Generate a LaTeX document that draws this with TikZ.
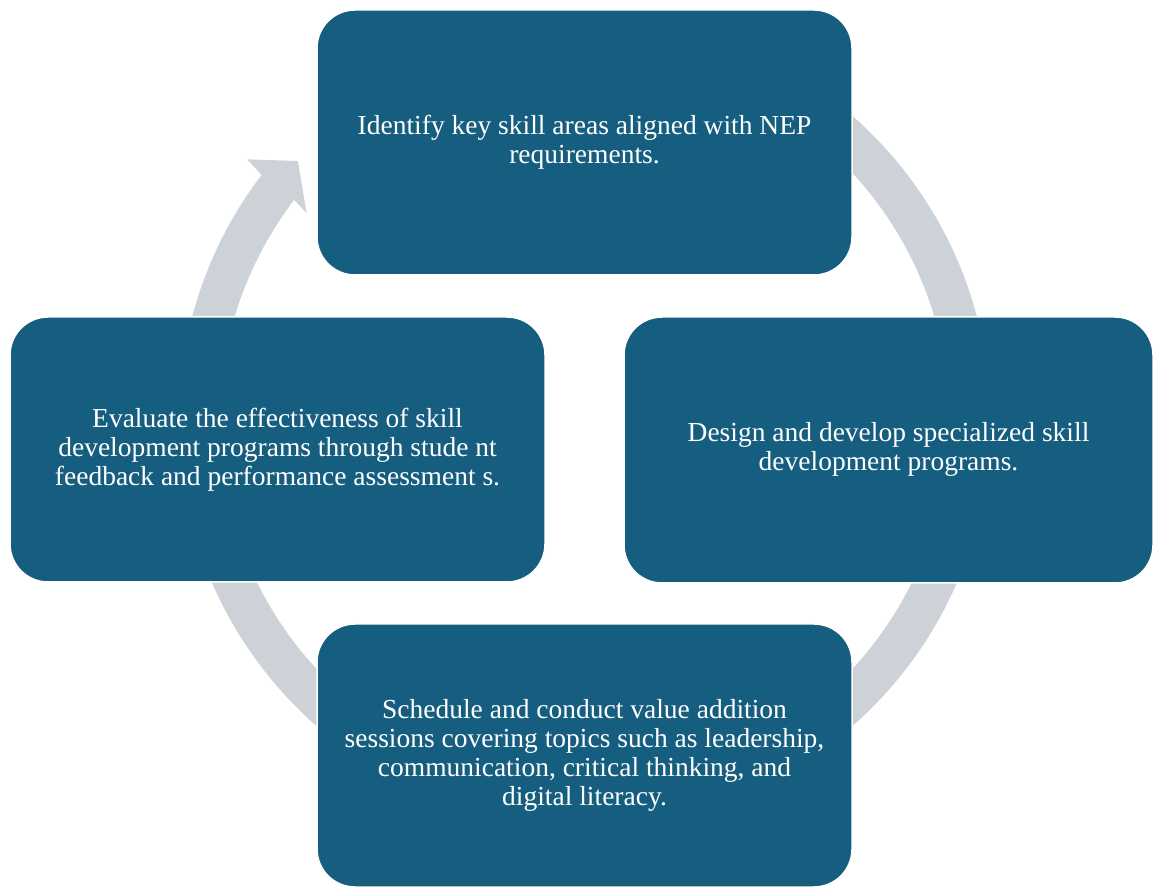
\documentclass[tikz,border=0pt]{standalone}
\usepackage{fontspec}
\setmainfont{Liberation Serif}
\usetikzlibrary{calc}
\definecolor{boxblue}{RGB}{22,94,128}
\definecolor{ringgray}{RGB}{205,210,217}
\tikzset{
  stepbox/.style={fill=boxblue, draw=white, line width=1.5pt, rounded corners=38pt},
  steptext/.style={text=white, align=center, font=\fontsize{27.5pt}{29pt}\selectfont, inner sep=0pt}
}
\begin{document}
\begin{tikzpicture}
\useasboundingbox (0pt,0pt) rectangle (1155pt,888pt);
\coordinate (C) at (584.5pt,467pt);
% circular arrow ring
\fill[ringgray] ($(C)+(95:406pt)$) arc[start angle=95, end angle=-217.3, radius=406pt]
  -- ($(C)+(142.2:427pt)$) coordinate (barbout)
  -- ($(C)+(137.8:387pt)$) coordinate (tip)
  -- ($(C)+(143.2:347pt)$) coordinate (barbin)
  -- ($(C)+(-217.3:365pt)$)
  arc[start angle=-217.3, end angle=95, radius=365pt] -- cycle;
% boxes
\draw[stepbox] (317pt,613pt) rectangle (852pt,878pt);
\node[steptext] (top) at (584.5pt,745.5pt) {Identify key skill areas aligned with NEP\\requirements.};
\draw[stepbox] (624pt,305pt) rectangle (1153pt,571pt);
\node[steptext] (right) at (888.5pt,438.5pt) {Design and develop specialized skill\\development programs.};
\draw[stepbox] (317pt,1pt) rectangle (852pt,264pt);
\node[steptext] (bottom) at (584.5pt,132.5pt) {Schedule and conduct value addition\\sessions covering topics such as leadership,\\communication, critical thinking, and\\digital literacy.};
\draw[stepbox] (10pt,306pt) rectangle (545pt,571pt);
\node[steptext] (left) at (277.5pt,438.5pt) {Evaluate the effectiveness of skill\\development programs through stude nt\\feedback and performance assessment s.};
\end{tikzpicture}
\end{document}
